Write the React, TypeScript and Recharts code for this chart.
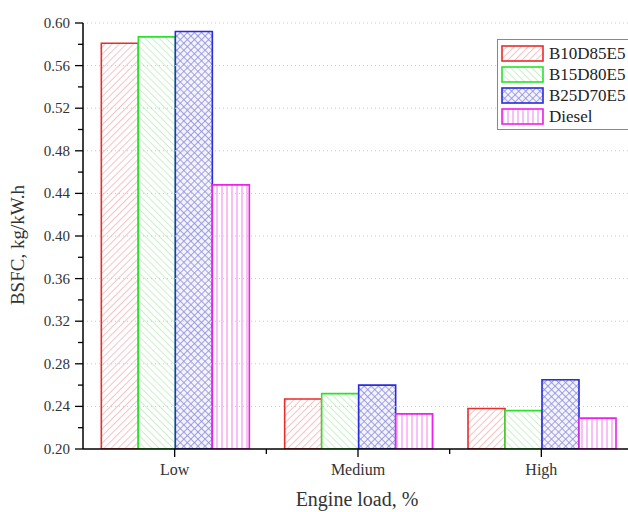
import { BarChart, Bar, XAxis, YAxis, ReferenceLine } from 'recharts'

const loads = ['Low', 'Medium', 'High']
const b10d85e5 = [0.581, 0.247, 0.238]
const b15d80e5 = [0.587, 0.252, 0.236]
const b25d70e5 = [0.592, 0.26, 0.265]
const diesel = [0.448, 0.233, 0.229]

const yMajor = [0.2, 0.24, 0.28, 0.32, 0.36, 0.4, 0.44, 0.48, 0.52, 0.56, 0.6]
const yMinor = [0.22, 0.26, 0.3, 0.34, 0.38, 0.42, 0.46, 0.5, 0.54, 0.58]

const series = [
  { key: 'B10D85E5', values: b10d85e5, stroke: '#ec2b2b', fill: 'url(#hatchRed)' },
  { key: 'B15D80E5', values: b15d80e5, stroke: '#2be22b', fill: 'url(#hatchGreen)' },
  { key: 'B25D70E5', values: b25d70e5, stroke: '#2a2ade', fill: 'url(#crossBlue)' },
  { key: 'Diesel', values: diesel, stroke: '#ec22ec', fill: 'url(#vertPink)' },
]

const data = loads.map((load, i) => {
  const row: Record<string, string | number> = { load }
  series.forEach((s) => (row[s.key] = s.values[i]))
  return row
})

const W = 640
const H = 512
const M = { top: 23, right: 7, left: 23, bottom: 23 }
const Y_W = 60
const BAND = (W - M.left - M.right - Y_W) / loads.length
const FONT = '"Liberation Serif", "DejaVu Serif", serif'

function PatternDefs() {
  return (
    <defs>
      <pattern id="hatchRed" patternUnits="userSpaceOnUse" width="5" height="5" patternTransform="rotate(45)">
        <rect width="5" height="5" fill="#fff" />
        <line x1="0" y1="0" x2="0" y2="5" stroke="#f3aaaa" strokeWidth="1.4" />
      </pattern>
      <pattern id="hatchGreen" patternUnits="userSpaceOnUse" width="5" height="5" patternTransform="rotate(-45)">
        <rect width="5" height="5" fill="#fff" />
        <line x1="0" y1="0" x2="0" y2="5" stroke="#b4ecb4" strokeWidth="1.4" />
      </pattern>
      <pattern id="crossBlue" patternUnits="userSpaceOnUse" width="5" height="5" patternTransform="rotate(45)">
        <rect width="5" height="5" fill="#f4f4fe" />
        <line x1="0" y1="0" x2="0" y2="5" stroke="#8e8edc" strokeWidth="1.6" />
        <line x1="0" y1="0" x2="5" y2="0" stroke="#8e8edc" strokeWidth="1.6" />
      </pattern>
      <pattern id="vertPink" patternUnits="userSpaceOnUse" width="5" height="5">
        <rect width="5" height="5" fill="#fff" />
        <line x1="2" y1="0" x2="2" y2="5" stroke="#f28ef2" strokeWidth="1.1" />
      </pattern>
    </defs>
  )
}

function YTick({ x, y, payload }: any) {
  const major = yMajor.some((t) => Math.abs(t - payload.value) < 1e-6)
  return (
    <g>
      <line x1={x - (major ? 8 : 5)} x2={x} y1={y} y2={y} stroke="#000" strokeWidth={1.3} />
      {major && (
        <text x={x - 13} y={y} dy={5} textAnchor="end" fontSize={15} fill="#333" fontFamily={FONT}>
          {payload.value.toFixed(2)}
        </text>
      )}
    </g>
  )
}

function XTick({ x, y, payload }: any) {
  return (
    <g>
      <line x1={x} x2={x} y1={y} y2={y + 8} stroke="#000" strokeWidth={1.3} />
      <line x1={x + BAND / 2} x2={x + BAND / 2} y1={y} y2={y + 5} stroke="#000" strokeWidth={1.3} />
      <text x={x} y={y + 26} textAnchor="middle" fontSize={16} fill="#333" fontFamily={FONT}>
        {payload.value}
      </text>
    </g>
  )
}

function LegendBox() {
  return (
    <div
      style={{
        position: 'absolute',
        left: 497,
        top: 39,
        width: 150,
        border: '1px solid #888',
        background: '#fff',
        padding: '3px 0 2px 3px',
        fontFamily: FONT,
        fontSize: 17,
        color: '#222',
      }}
    >
      {series.map((s) => (
        <div key={s.key} style={{ display: 'flex', alignItems: 'center', height: 21 }}>
          <svg width={44} height={17} style={{ display: 'block' }}>
            <rect x={1} y={1} width={41} height={15} fill={s.fill} stroke={s.stroke} strokeWidth={1.6} />
          </svg>
          <span style={{ marginLeft: 4 }}>{s.key}</span>
        </div>
      ))}
    </div>
  )
}

export default function App() {
  return (
    <div style={{ position: 'fixed', left: 0, top: 0, width: 628, height: 512, overflow: 'hidden', background: '#fff' }}>
      <BarChart width={W} height={H} data={data} margin={M} barCategoryGap="10%" barGap={0}>
        <PatternDefs />
        <XAxis
          dataKey="load"
          tick={<XTick />}
          tickLine={false}
          tickSize={0}
          tickMargin={0}
          height={40}
          axisLine={{ stroke: '#000', strokeWidth: 1.5 }}
          interval={0}
        />
        <YAxis
          type="number"
          domain={[0.2, 0.6]}
          ticks={[...yMajor, ...yMinor].sort((a, b) => a - b)}
          interval={0}
          tick={<YTick />}
          tickLine={false}
          tickSize={0}
          tickMargin={0}
          width={Y_W}
          allowDataOverflow
          axisLine={{ stroke: '#000', strokeWidth: 1.5 }}
        />
        {yMajor.slice(1).map((v) => (
          <ReferenceLine key={v} y={v} stroke="#c8c8c8" strokeDasharray="1 3" />
        ))}
        {series.map((s) => (
          <Bar key={s.key} dataKey={s.key} fill={s.fill} stroke={s.stroke} strokeWidth={1.6} isAnimationActive={false} />
        ))}
        <text x={17} y={245} transform="rotate(-90 17 245)" textAnchor="middle" dominantBaseline="central" fontSize={19} fill="#333" fontFamily={FONT}>
          BSFC, kg/kW.h
        </text>
        <text x={357} y={506} textAnchor="middle" fontSize={20} fill="#333" fontFamily={FONT}>
          Engine load, %
        </text>
      </BarChart>
      <LegendBox />
    </div>
  )
}
